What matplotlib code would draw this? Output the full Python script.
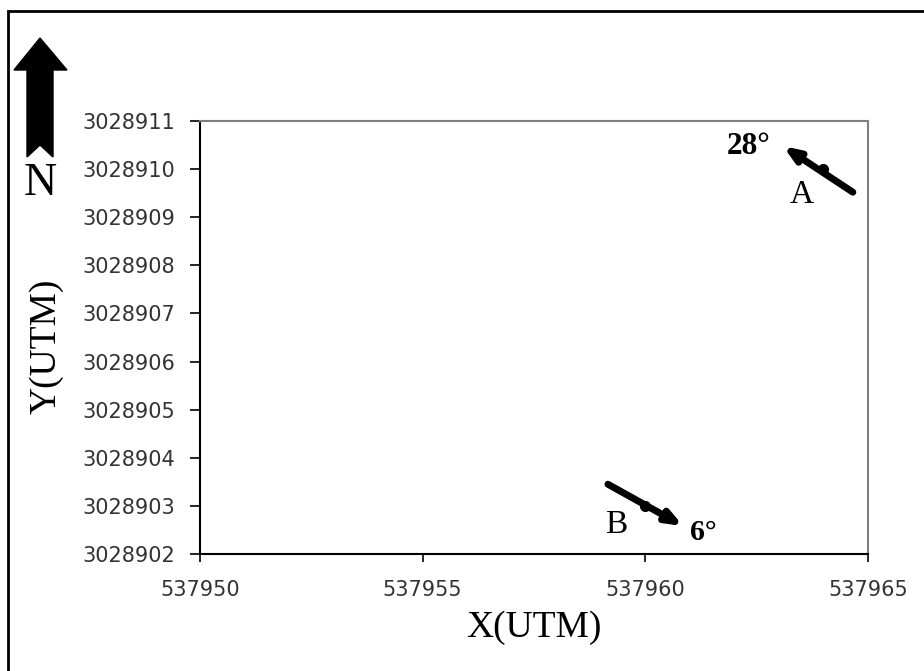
import matplotlib.pyplot as plt
from matplotlib.patches import Polygon, Rectangle
import numpy as np

# points (UTM)
labels = ["A", "B"]
angles = ["28°", "6°"]
x_utm = [537964, 537960]
y_utm = [3028910, 3028903]
# arrow tail / head offsets from each point
tail_dx = [0.66, -0.84]
tail_dy = [-0.48, 0.45]
head_dx = [-0.91, 0.85]
head_dy = [0.48, -0.42]

xticks = [537950, 537955, 537960, 537965]
yticks = list(range(3028902, 3028912))

W, H = 924, 671
fig = plt.figure(figsize=(W / 100, H / 100), dpi=100)
ax = fig.add_axes([200 / W, 1 - 554 / H, 668 / W, 433 / H])

serif = "Liberation Serif"
sans = "DejaVu Sans"

for i in range(len(labels)):
    x0, y0 = x_utm[i], y_utm[i]
    ax.annotate("", xy=(x0 + head_dx[i], y0 + head_dy[i]),
                xytext=(x0 + tail_dx[i], y0 + tail_dy[i]),
                arrowprops=dict(arrowstyle="-|>,head_length=0.9,head_width=0.35",
                                color="black", lw=5, shrinkA=0, shrinkB=0))
    ax.plot(x0, y0, "o", color="black", ms=7)

ax.text(537962.8, 3028910.47, angles[0], fontsize=22.5, family=serif,
        fontweight="bold", ha="right", va="center")
ax.text(537963.5, 3028909.47, labels[0], fontsize=24, family=serif,
        ha="center", va="center")
ax.text(537959.35, 3028902.6, labels[1], fontsize=24, family=serif,
        ha="center", va="center")
ax.text(537961.3, 3028902.45, angles[1], fontsize=21.5, family=serif,
        fontweight="bold", ha="center", va="center")

ax.set_xlim(xticks[0], xticks[-1])
ax.set_ylim(yticks[0], yticks[-1])
ax.set_xticks(xticks)
ax.set_yticks(yticks)
ax.set_xticklabels([str(t) for t in xticks], family=sans, fontsize=15,
                   color="#333333")
ax.set_yticklabels([str(t) for t in yticks], family=sans, fontsize=15,
                   color="#333333")
ax.tick_params(axis="x", direction="out", length=6, width=1.2, pad=13)
ax.tick_params(axis="y", direction="out", length=7, width=1.2, pad=11)
for s in ["left", "bottom"]:
    ax.spines[s].set_color("black")
    ax.spines[s].set_linewidth(1.5)
for s in ["top", "right"]:
    ax.spines[s].set_color("#808080")
    ax.spines[s].set_linewidth(1.5)

ax.set_xlabel("X(UTM)", family=serif, fontsize=27)
ax.set_ylabel("Y(UTM)", family=serif, fontsize=27)
ax.xaxis.set_label_coords(0.5, (554 - 610) / 433)
ax.yaxis.set_label_coords((64 - 200) / 668, 0.48)

# outer frame
fig.patches.append(Rectangle((8 / W, -0.1), 1.2, 1.1 - 11 / H,
                             transform=fig.transFigure, fill=False,
                             edgecolor="black", lw=2))

# north arrow (figure pixel coords)
px = np.array([[40, 38], [67, 70], [53, 70], [53, 157], [40, 145],
               [27, 157], [27, 70], [14, 70]], dtype=float)
pts = np.column_stack([px[:, 0] / W, 1 - px[:, 1] / H])
fig.patches.append(Polygon(pts, closed=True, transform=fig.transFigure,
                           facecolor="black", edgecolor="black"))
fig.text(40 / W, 1 - 184 / H, "N", family=serif, fontsize=33,
         ha="center", va="center")

fig.savefig("out.png", dpi=100)
